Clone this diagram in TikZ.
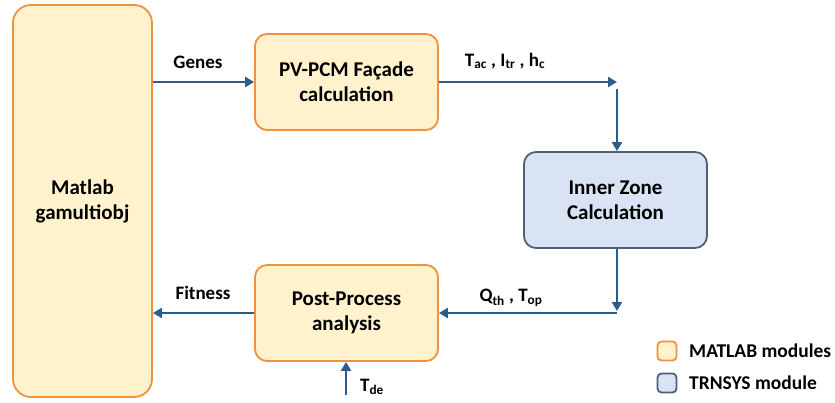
\documentclass[tikz,border=0pt]{standalone}
\usepackage{fontspec}
\setmainfont{Carlito}
\usetikzlibrary{arrows.meta}
\definecolor{orgline}{HTML}{F0913F}
\definecolor{orgfill}{HTML}{FFF2CC}
\definecolor{bluline}{HTML}{4F6178}
\definecolor{blufill}{HTML}{DAE3F3}
\definecolor{arrcol}{HTML}{2E5C8A}
\begin{document}
\begin{tikzpicture}[x=1pt,y=-1pt,
  font=\bfseries\fontsize{21}{25}\selectfont,
  matbox/.style={draw=orgline, fill=orgfill, line width=1.8pt, rounded corners=12pt, align=center, inner sep=0pt},
  trnbox/.style={draw=bluline, fill=blufill, line width=1.8pt, rounded corners=12pt, align=center, inner sep=0pt},
  arr/.style={draw=arrcol, line width=2.6pt, -{Triangle[length=9pt,width=10pt]}},
  lab/.style={font=\bfseries\fontsize{19}{22}\selectfont, inner sep=0pt},
  legtxt/.style={font=\bfseries\fontsize{19.5}{22}\selectfont, inner sep=0pt, anchor=west},
  legbox/.style={line width=1.8pt, rounded corners=4pt, minimum width=19pt, minimum height=19pt, inner sep=0pt}
]
\useasboundingbox (0,0) rectangle (835,403);
\node[matbox, rounded corners=18pt, minimum width=139pt, minimum height=392pt] (mat) at (82.5,201) {Matlab\\gamultiobj};
\node[matbox, minimum width=183pt, minimum height=96pt] (pv) at (346.5,82) {PV-PCM Façade\\calculation};
\node[trnbox, minimum width=183pt, minimum height=96pt] (inz) at (615.5,200) {Inner Zone\\Calculation};
\node[matbox, minimum width=183pt, minimum height=96pt] (post) at (346.5,313) {Post-Process\\analysis};

\coordinate (t1) at (617,82);
\coordinate (t2) at (617,89);
\coordinate (q1) at (617,311);
\coordinate (q2) at (617,313);
\coordinate (tde) at (346,395);

\draw[arr] (mat.east |- pv.west) -- (pv.west);
\draw[arr] (pv.east) -- (t1);
\draw[arr] (t2) -- (t2 |- inz.north);
\draw[arr] (q1 |- inz.south) -- (q1);
\draw[arr] (q2) -- (q2 -| post.east);
\draw[arr] (post.west) -- (mat.east |- post.west);
\draw[arr] (tde) -- (tde |- post.south);

\node[lab] (lgenes) at (198,62) {Genes};
\node[lab] (lfit) at (203,293) {Fitness};
\node[lab] (ltac) at (505,61) {T\textsubscript{ac} , I\textsubscript{tr} , h\textsubscript{c}};
\node[lab] (lqth) at (511,298) {Q\textsubscript{th} , T\textsubscript{op}};
\node[lab] (ltde) at (372,387) {T\textsubscript{de}};

\node[legbox, draw=orgline, fill=orgfill] (leg1) at (667,351) {};
\node[legbox, draw=bluline, fill=blufill] (leg2) at (667,383) {};
\node[legtxt] (leg1t) at (689,351) {MATLAB modules};
\node[legtxt] (leg2t) at (689,383) {TRNSYS module};
\end{tikzpicture}
\end{document}
